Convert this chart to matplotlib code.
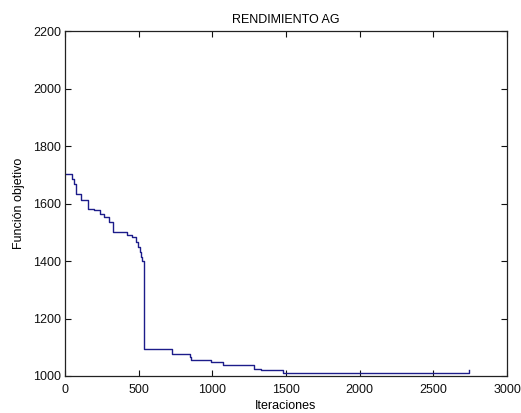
import matplotlib
matplotlib.use("Agg")
import matplotlib.pyplot as plt

plt.rcParams['font.family'] = ['Liberation Sans', 'DejaVu Sans']

# Best objective value found by the GA, recorded at each iteration where it changes
iteraciones = [0, 46, 58, 72, 110, 155, 200, 240, 262, 296, 325, 423, 454, 484,
               498, 510, 515, 520, 534, 729, 847, 858, 994, 1073, 1284, 1330,
               1481, 2744]
objetivo = [1703, 1686, 1669, 1634, 1614, 1582, 1576, 1564, 1552, 1535, 1500,
            1492, 1483, 1465, 1450, 1430, 1413, 1399, 1093, 1078, 1066, 1056,
            1050, 1038, 1023, 1020, 1010, 1022]

xticks = [0, 500, 1000, 1500, 2000, 2500, 3000]
yticks = [1000, 1200, 1400, 1600, 1800, 2000, 2200]

fig = plt.figure(figsize=(5.21, 4.13), dpi=100)
ax = fig.add_axes([0.1248, 0.0896, 0.8484, 0.835])

ax.plot(iteraciones, objetivo, drawstyle='steps-post', color='#1c1c8a', lw=1.0)

ax.set_xlim(0, 3000)
ax.set_ylim(1000, 2200)
ax.set_xticks(xticks)
ax.set_yticks(yticks)
ax.tick_params(direction='in', length=4, width=0.8, labelsize=9, colors='#111111',
               top=True, right=True, pad=3)
ax.tick_params(axis='x', pad=6)
for s in ax.spines.values():
    s.set_linewidth(0.9)
    s.set_color('#222222')

ax.set_title('RENDIMIENTO AG', fontsize=9, pad=6)
ax.set_xlabel('Iteraciones', fontsize=9, labelpad=3)
ax.set_ylabel('Función objetivo', fontsize=9, labelpad=6)

fig.savefig('out.png', dpi=100)
